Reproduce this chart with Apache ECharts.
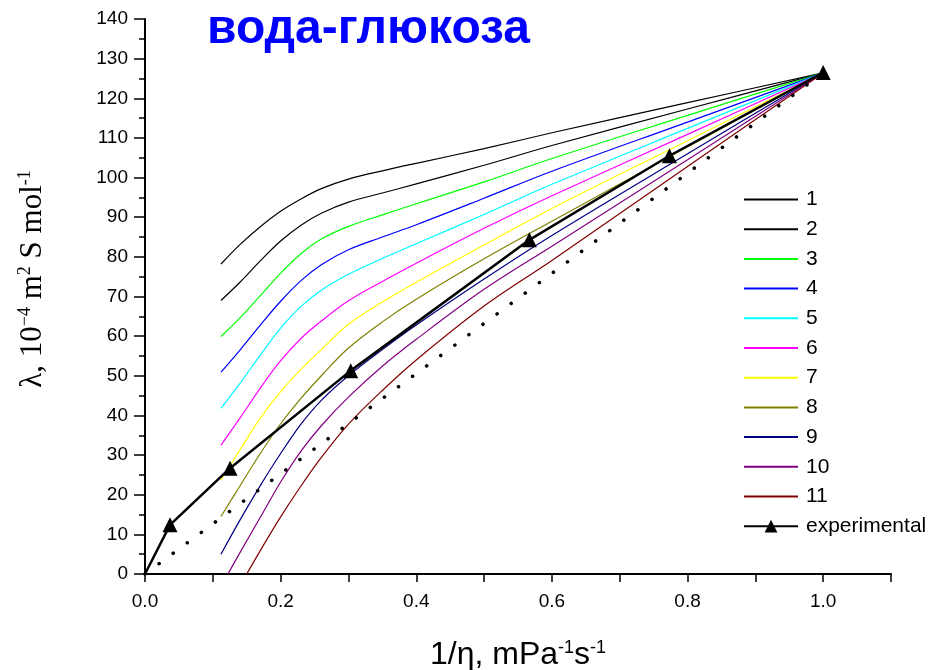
<!DOCTYPE html>
<html>
<head>
<meta charset="utf-8">
<script src="https://cdn.jsdelivr.net/npm/echarts@6/dist/echarts.min.js"></script>
<style>
html,body{margin:0;padding:0;background:#fff;}
#chart{width:933px;height:670px;}
</style>
</head>
<body>
<div id="chart"></div>
<script>
// ---- data ----
const seriesNames = ['1','2','3','4','5','6','7','8','9','10','11'];
const seriesColors = ['#000000','#000000','#00ff00','#0000ff','#00ffff','#ff00ff','#ffff00','#808000','#000080','#800080','#800000'];

const xGrid = [0.112,0.14,0.17,0.2,0.23,0.26,0.3,0.35,0.4,0.5,0.6,0.8,1.0];
const curve1Y = [78.2,83.1,87.6,91.5,94.6,97.2,99.6,101.7,103.6,107.3,111.3,118.9,126.4];
const curve2Y = [69.0,73.6,79.0,84.0,88.0,91.0,93.8,96.1,98.4,103.1,108.1,117.3,126.4];
const curve3Y = [59.9,64.6,70.2,75.9,80.8,84.5,87.7,90.6,93.4,98.9,104.8,115.7,126.4];
const curve4Y = [50.9,56.5,62.8,68.8,74.0,78.0,81.8,85.0,88.1,94.8,101.6,114.0,126.4];
const curve5Y = [41.8,48.1,55.2,62.0,67.5,71.6,75.6,79.6,83.3,90.7,98.3,112.4,126.4];
const curve6Y = [32.5,39.3,46.9,53.8,59.4,63.8,68.9,73.8,78.4,87.2,95.4,110.9,126.4];
const curve7Y = [23.7,31.3,39.3,46.0,51.6,56.6,63.0,68.6,73.6,83.0,92.2,109.3,126.4];
const curve8Y = [14.5,22.2,30.4,37.9,44.3,50.0,57.0,63.6,69.3,79.5,89.0,107.7,126.4];
const curve9Y = [5.0,13.6,22.3,30.4,37.8,43.8,50.0,56.6,62.8,74.4,85.4,106.0,126.4];
// curves 10 and 11 start on the x axis
const curve10X = [0.1224,0.14,0.17,0.2,0.23,0.26,0.3,0.35,0.4,0.5,0.6,0.8,1.0];
const curve10Y = [0,5.4,14.3,23.2,31.0,37.4,44.6,52.4,59.2,71.8,82.7,104.5,126.4];
const curve11X = [0.15,0.17,0.2,0.23,0.26,0.3,0.35,0.4,0.5,0.6,0.8,1.0];
const curve11Y = [0,5.9,14.4,22.2,29.4,37.8,46.3,54.0,67.6,79.1,102.8,126.4];

const curveXs = [xGrid,xGrid,xGrid,xGrid,xGrid,xGrid,xGrid,xGrid,xGrid,curve10X,curve11X];
const curveYs = [curve1Y,curve2Y,curve3Y,curve4Y,curve5Y,curve6Y,curve7Y,curve8Y,curve9Y,curve10Y,curve11Y];

const expX = [0,0.0369,0.1254,0.3034,0.5668,0.7733,1.0];
const expY = [0,12.4,26.7,51.3,84.3,105.5,126.5];
const dottedX = [0,1.0];
const dottedY = [0,126.4];

const xTickLabels = ['0.0','0.2','0.4','0.6','0.8','1.0'];

// ---- chart ----
const SANS = '"Liberation Sans", Arial, Helvetica, sans-serif';
const SERIF = '"Liberation Serif", "Times New Roman", serif';
const chart = echarts.init(document.getElementById('chart'), null, {renderer:'canvas'});

const zip = (xs, ys) => xs.map((x, i) => [x, ys[i]]);

const series = curveYs.map((ys, i) => ({
  name: seriesNames[i],
  type: 'line',
  data: zip(curveXs[i], ys),
  symbol: 'none',
  showSymbol: false,
  smooth: 0.35,
  lineStyle: { color: seriesColors[i], width: 1.2 },
  itemStyle: { color: seriesColors[i] },
  z: 2
}));

series.push({
  name: 'theory',
  type: 'line',
  data: zip(dottedX, dottedY),
  symbol: 'none',
  lineStyle: { color: '#000', width: 3.6, type: [0.01, 17.5], cap: 'round' },
  z: 3
});

series.push({
  name: 'experimental',
  type: 'line',
  data: zip(expX, expY).map((p, i) => i === 0 ? { value: p, symbol: 'none' } : p),
  symbol: 'triangle',
  symbolSize: 15,
  showSymbol: true,
  lineStyle: { color: '#000', width: 2.5 },
  itemStyle: { color: '#000' },
  z: 5
});

const legendData = seriesNames.map(n => ({ name: n, itemStyle: { opacity: 0 } }))
  .concat([{ name: 'experimental' }]);

const option = {
  animation: false,
  backgroundColor: '#fff',
  grid: { left: 145, top: 19, width: 746, height: 555, containLabel: false },
  xAxis: {
    type: 'value', min: 0, max: 1.1, interval: 0.1,
    axisLine: { show: true, onZero: false, lineStyle: { color: '#000', width: 2 } },
    axisTick: { show: true, length: 8, lineStyle: { color: '#000', width: 1.5 } },
    axisLabel: {
      margin: 18, color: '#000', fontSize: 19, fontFamily: SANS,
      formatter: v => { const s = v.toFixed(1); return xTickLabels.indexOf(s) >= 0 ? s : ''; }
    },
    splitLine: { show: false }
  },
  yAxis: {
    type: 'value', min: 0, max: 140, interval: 10,
    axisLine: { show: true, onZero: false, lineStyle: { color: '#000', width: 2 } },
    axisTick: { show: true, length: 11, lineStyle: { color: '#000', width: 1.5 } },
    minorTick: { show: true, splitNumber: 2, length: 6, lineStyle: { color: '#000', width: 1.5 } },
    axisLabel: { margin: 17, color: '#000', fontSize: 19, fontFamily: SANS },
    splitLine: { show: false }
  },
  legend: {
    orient: 'vertical', left: 738, top: 184,
    itemWidth: 54, itemHeight: 16, itemGap: 8.7,
    data: legendData,
    textStyle: { color: '#000', fontSize: 21, fontFamily: SANS, lineHeight: 20, padding: [0,0,0,3] }
  },
  graphic: [
    {
      type: 'text', left: 207, top: 6,
      style: { text: 'вода-глюкоза', font: 'bold 48px ' + SANS, fill: '#0000ff' }
    },
    {
      type: 'text', x: 518, y: 655,
      style: {
        text: '{t|1/η, mPa}{s|-1}{t|s}{s|-1}',
        align: 'center', verticalAlign: 'middle',
        rich: {
          t: { fontFamily: SANS, fontSize: 32, lineHeight: 32, fill: '#000' },
          s: { fontFamily: SANS, fontSize: 18, lineHeight: 11, verticalAlign: 'top', fill: '#000' }
        }
      }
    },
    {
      type: 'text', x: 33, y: 279, rotation: Math.PI / 2,
      style: {
        text: '{t|λ, 10}{s|−4}{t| m}{s|2}{t| S mol}{s|-1}',
        align: 'center', verticalAlign: 'middle',
        rich: {
          t: { fontFamily: SERIF, fontSize: 31, lineHeight: 34, fill: '#000' },
          s: { fontFamily: SERIF, fontSize: 18, lineHeight: 7, verticalAlign: 'top', fill: '#000' }
        }
      }
    }
  ],
  series: series
};
chart.setOption(option);
</script>
</body>
</html>
